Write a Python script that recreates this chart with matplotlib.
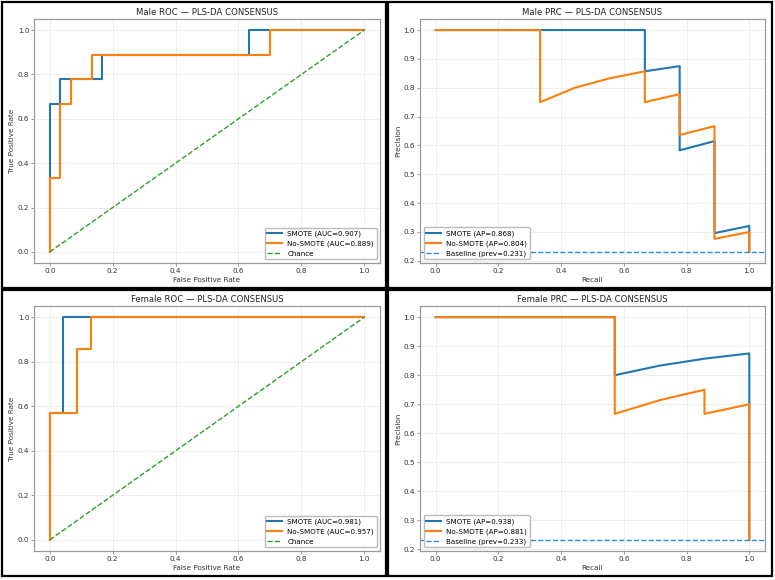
import matplotlib
matplotlib.use("Agg")
import matplotlib.pyplot as plt
from matplotlib.patches import Rectangle

# ROC points (fpr, tpr)
male_roc_smote_fpr = [0.0, 0.0, 0.033, 0.033, 0.167, 0.167, 0.633, 0.633, 1.0]
male_roc_smote_tpr = [0.0, 0.667, 0.667, 0.778, 0.778, 0.889, 0.889, 1.0, 1.0]
male_roc_nosmote_fpr = [0.0, 0.0, 0.033, 0.033, 0.067, 0.067, 0.133, 0.133, 0.7, 0.7, 1.0]
male_roc_nosmote_tpr = [0.0, 0.333, 0.333, 0.667, 0.667, 0.778, 0.778, 0.889, 0.889, 1.0, 1.0]

female_roc_smote_fpr = [0.0, 0.0, 0.043, 0.043, 1.0]
female_roc_smote_tpr = [0.0, 0.571, 0.571, 1.0, 1.0]
female_roc_nosmote_fpr = [0.0, 0.0, 0.087, 0.087, 0.13, 0.13, 1.0]
female_roc_nosmote_tpr = [0.0, 0.571, 0.571, 0.857, 0.857, 1.0, 1.0]

# PR points (recall, precision)
male_pr_smote_rec = [0.0, 0.667, 0.667, 0.778, 0.778, 0.889, 0.889, 1.0, 1.0]
male_pr_smote_prec = [1.0, 1.0, 0.857, 0.875, 0.583, 0.615, 0.296, 0.321, 0.231]
male_pr_nosmote_rec = [0.0, 0.333, 0.333, 0.444, 0.556, 0.667, 0.667, 0.778, 0.778, 0.889, 0.889, 1.0, 1.0]
male_pr_nosmote_prec = [1.0, 1.0, 0.75, 0.8, 0.833, 0.857, 0.75, 0.778, 0.636, 0.667, 0.276, 0.3, 0.231]

female_pr_smote_rec = [0.0, 0.571, 0.571, 0.714, 0.857, 1.0, 1.0]
female_pr_smote_prec = [1.0, 1.0, 0.8, 0.833, 0.857, 0.875, 0.233]
female_pr_nosmote_rec = [0.0, 0.571, 0.571, 0.714, 0.857, 0.857, 1.0, 1.0]
female_pr_nosmote_prec = [1.0, 1.0, 0.667, 0.714, 0.75, 0.667, 0.7, 0.233]

male_auc = [0.907, 0.889]
female_auc = [0.981, 0.957]
male_ap = [0.868, 0.804]
female_ap = [0.938, 0.881]
male_prev = 0.231
female_prev = 0.233

plt.rcParams["font.family"] = "DejaVu Sans"
plt.rcParams["axes.edgecolor"] = "#9a9a9a"
plt.rcParams["xtick.color"] = "#8a8a8a"
plt.rcParams["ytick.color"] = "#8a8a8a"
plt.rcParams["xtick.labelcolor"] = "#333333"
plt.rcParams["ytick.labelcolor"] = "#333333"


def roc_panel(ax, title, s_fpr, s_tpr, n_fpr, n_tpr, auc):
    ax.plot(s_fpr, s_tpr, color="#1f77b4", lw=1.5, label=f"SMOTE (AUC={auc[0]:.3f})")
    ax.plot(n_fpr, n_tpr, color="#ff7f0e", lw=1.5, label=f"No-SMOTE (AUC={auc[1]:.3f})")
    ax.plot([0, 1], [0, 1], color="#2ca02c", lw=1.0, ls="--", label="Chance")
    ax.set_xlabel("False Positive Rate", fontsize=5.2, color="#333333", labelpad=2)
    ax.set_ylabel("True Positive Rate", fontsize=5.2, color="#333333", labelpad=2)
    ax.set_title(title, fontsize=6.1, color="#222222", pad=3)
    ax.legend(loc="lower right", fontsize=5.1, frameon=True, edgecolor="#bbbbbb", framealpha=1.0)


def prc_panel(ax, title, s_rec, s_prec, n_rec, n_prec, ap, prev):
    ax.plot(s_rec, s_prec, color="#1f77b4", lw=1.5, label=f"SMOTE (AP={ap[0]:.3f})")
    ax.plot(n_rec, n_prec, color="#ff7f0e", lw=1.5, label=f"No-SMOTE (AP={ap[1]:.3f})")
    ax.axhline(prev, color="#2a8fd0", lw=1.0, ls="--", label=f"Baseline (prev={prev:.3f})")
    ax.set_xlabel("Recall", fontsize=5.2, color="#333333", labelpad=2)
    ax.set_ylabel("Precision", fontsize=5.2, color="#333333", labelpad=2)
    ax.set_title(title, fontsize=6.1, color="#222222", pad=3)
    ax.legend(loc="lower left", fontsize=5.1, frameon=True, edgecolor="#bbbbbb", framealpha=1.0)


fig = plt.figure(figsize=(7.75, 5.8), dpi=100)

ax_tl = fig.add_axes([0.0439, 0.5466, 0.4465, 0.4207])
ax_tr = fig.add_axes([0.5419, 0.5466, 0.4452, 0.4207])
ax_bl = fig.add_axes([0.0439, 0.05, 0.4465, 0.4224])
ax_br = fig.add_axes([0.5419, 0.05, 0.4452, 0.4224])

roc_panel(ax_tl, "Male ROC \u2014 PLS-DA CONSENSUS", male_roc_smote_fpr, male_roc_smote_tpr,
          male_roc_nosmote_fpr, male_roc_nosmote_tpr, male_auc)
prc_panel(ax_tr, "Male PRC \u2014 PLS-DA CONSENSUS", male_pr_smote_rec, male_pr_smote_prec,
          male_pr_nosmote_rec, male_pr_nosmote_prec, male_ap, male_prev)
roc_panel(ax_bl, "Female ROC \u2014 PLS-DA CONSENSUS", female_roc_smote_fpr, female_roc_smote_tpr,
          female_roc_nosmote_fpr, female_roc_nosmote_tpr, female_auc)
prc_panel(ax_br, "Female PRC \u2014 PLS-DA CONSENSUS", female_pr_smote_rec, female_pr_smote_prec,
          female_pr_nosmote_rec, female_pr_nosmote_prec, female_ap, female_prev)

for ax in [ax_tl, ax_tr, ax_bl, ax_br]:
    ax.grid(True, color="#ebebeb", lw=0.6)
    ax.set_axisbelow(True)
    ax.tick_params(labelsize=5.2, length=2, width=0.6, pad=1.5)
    for sp in ax.spines.values():
        sp.set_linewidth(0.9)

# black frames around each panel (the original looks like four pasted images)
frames = [(0.0026, 0.5034, 0.4955, 0.4932), (0.5006, 0.5034, 0.4955, 0.4932),
          (0.0026, 0.0069, 0.4955, 0.4931), (0.5006, 0.0069, 0.4955, 0.4931)]
for x0, y0, w, h in frames:
    fig.patches.append(Rectangle((x0, y0), w, h, transform=fig.transFigure,
                                 fill=False, edgecolor="black", lw=1.6))

fig.savefig("out.png", dpi=100)
